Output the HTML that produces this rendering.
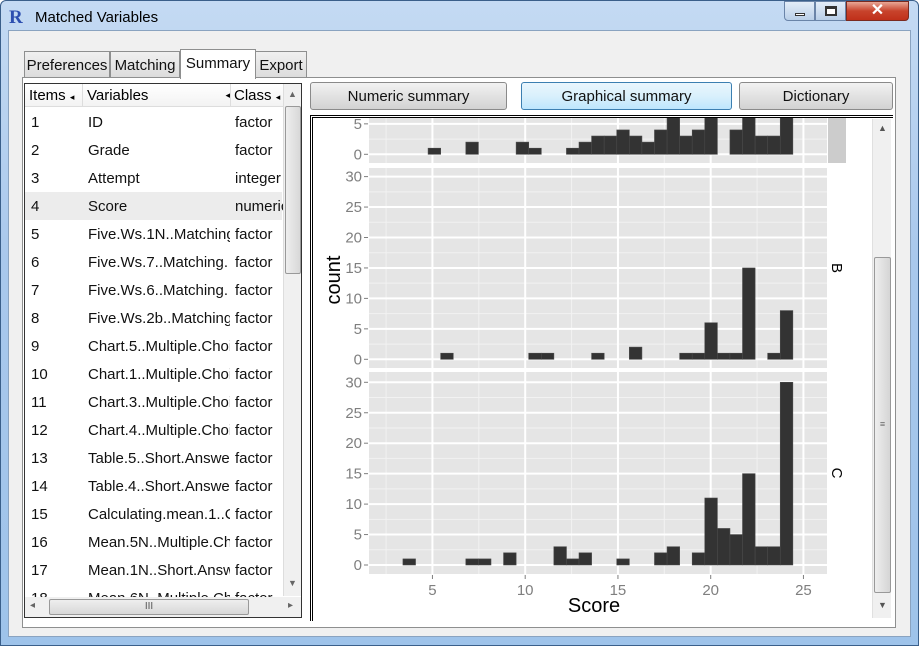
<!DOCTYPE html>
<html><head><meta charset="utf-8">
<style>
*{box-sizing:border-box;margin:0;padding:0}
body{width:919px;height:646px;overflow:hidden;background:#fff;font-family:"Liberation Sans",sans-serif;position:relative}
.abs{position:absolute}
.row{position:absolute;left:0;width:257px;height:28px;font-size:15px;color:#111}
.row span{position:absolute;top:6px;white-space:nowrap;overflow:hidden}
.btn{position:absolute;top:82px;height:28px;border:1px solid #8a8a8a;border-radius:3px;background:linear-gradient(#f2f2f2,#e2e2e2 50%,#d2d2d2);font-size:15px;text-align:center;line-height:27px;color:#111}
.tab{position:absolute;height:27px;border:1px solid #8e8f8f;background:linear-gradient(#f0f0f0,#dcdcdc);font-size:15px;line-height:27px;text-align:center;color:#111}
.hdr{white-space:nowrap}
</style></head><body>
<div class="abs" style="left:0;top:0;width:919px;height:646px;background:linear-gradient(#c4daf3,#a9c8ec 40%,#9ec3ea);border:1px solid #3a5f8a;border-radius:6px 6px 0 0"></div>
<div class="abs" style="left:9px;top:7px;font:bold 19px 'Liberation Serif',serif;color:#2d4fb0">R</div>
<div class="abs" style="left:35px;top:9px;font-size:15px;color:#000">Matched Variables</div>
<div class="abs" style="left:784px;top:1px;width:31px;height:20px;border:1px solid #6a84a8;border-radius:0 0 0 4px;background:linear-gradient(#e3edf8,#b9cfe8)"><div class="abs" style="left:10px;top:11px;width:10px;height:3px;background:#fff;border:1px solid #333"></div></div>
<div class="abs" style="left:815px;top:1px;width:31px;height:20px;border:1px solid #6a84a8;background:linear-gradient(#e3edf8,#b9cfe8)"><div class="abs" style="left:9px;top:4px;width:12px;height:10px;border:2px solid #333;border-top-width:3px;background:#fff"></div></div>
<div class="abs" style="left:846px;top:1px;width:63px;height:20px;border:1px solid #7a2a20;border-radius:0 0 4px 0;background:linear-gradient(#e8a796,#c8432c 50%,#c0301a);color:#fff;font-size:16px;font-weight:bold;text-align:center;line-height:18px">✕</div>
<div class="abs" style="left:8px;top:30px;width:903px;height:607px;background:#f0f0f0;border:1px solid #8aa3c0"></div>
<div class="tab" style="left:24px;top:51px;width:86px">Preferences</div>
<div class="tab" style="left:110px;top:51px;width:70px">Matching</div>
<div class="tab" style="left:255px;top:51px;width:52px">Export</div>
<div class="abs" style="left:22px;top:77px;width:874px;height:551px;background:#fff;border:1px solid #8e8f8f"></div>
<div class="tab" style="left:180px;top:49px;width:76px;height:30px;background:#fff;border-bottom:none">Summary</div>

<div class="abs" style="left:24px;top:83px;width:278px;height:535px;border:1px solid #333;background:#fff;overflow:hidden">
 <div class="abs" style="left:0;top:0;width:258px;height:23px;background:linear-gradient(#fff,#f3f3f3);border-bottom:1px solid #ddd;font-size:15px;overflow:hidden">
  <span class="abs hdr" style="left:4px;top:3px">Items <span style="font-size:9px">◂</span></span>
  <span class="abs hdr" style="left:57px;top:0;height:23px;padding-top:3px;width:148px;border-left:1px solid #ddd;padding-left:4px">Variables<span style="float:right;font-size:9px;padding-top:3px">◂</span></span>
  <span class="abs hdr" style="left:205px;top:0;height:23px;padding-top:3px;width:60px;border-left:1px solid #ddd;padding-left:3px">Class <span style="font-size:9px">◂</span></span>
 </div>
 <div class="abs" id="rows" style="left:0;top:24px;width:258px;height:489px;overflow:hidden"></div>
 <div class="abs" style="left:258px;top:0;width:18px;height:512px;background:#f0f0f0;border-left:1px solid #ddd">
  <div class="abs" style="left:4px;top:5px;font-size:9px;color:#666">▲</div>
  <div class="abs" style="left:1px;top:22px;width:16px;height:168px;border:1px solid #999;border-radius:2px;background:linear-gradient(90deg,#eee,#d8d8d8)"></div>
  <div class="abs" style="left:4px;top:494px;font-size:9px;color:#666">▼</div>
 </div>
 <div class="abs" style="left:0;top:513px;width:276px;height:20px;background:#f0f0f0">
  <div class="abs" style="left:5px;top:3px;font-size:10px;color:#666">◂</div>
  <div class="abs" style="left:24px;top:2px;width:200px;height:16px;border:1px solid #999;border-radius:2px;background:linear-gradient(#eee,#d8d8d8);text-align:center;font-size:10px;line-height:14px;color:#555">III</div>
  <div class="abs" style="left:263px;top:3px;font-size:10px;color:#666">▸</div>
 </div>
</div>

<div class="btn" style="left:310px;width:197px">Numeric summary</div>
<div class="btn" style="left:521px;width:211px;border-color:#3c7fb1;background:linear-gradient(#eaf6fd,#d9f0fc 50%,#bee6fd)">Graphical summary</div>
<div class="btn" style="left:739px;width:154px">Dictionary</div>

<div class="abs" style="left:310px;top:115px;width:583px;height:506px;border-left:3px double #000;border-top:3px double #000;background:#fff"></div>
<svg class="abs" style="left:313px;top:118px" width="557" height="500" viewBox="313 118 557 500" id="chart"></svg>
<div class="abs" style="left:872px;top:119px;width:19px;height:499px;background:#f0f0f0;border-left:1px solid #e0e0e0">
 <div class="abs" style="left:5px;top:4px;font-size:9px;color:#555">▲</div>
 <div class="abs" style="left:1px;top:138px;width:17px;height:336px;border:1px solid #999;border-radius:2px;background:linear-gradient(90deg,#eee,#d5d5d5);text-align:center;line-height:332px;font-size:9px;color:#666">≡</div>
 <div class="abs" style="left:5px;top:481px;font-size:9px;color:#555">▼</div>
</div>

<script>
var rowItems=["1","2","3","4","5","6","7","8","9","10","11","12","13","14","15","16","17","18"];
var rowVars=["ID","Grade","Attempt","Score","Five.Ws.1N..Matching.","Five.Ws.7..Matching.","Five.Ws.6..Matching.","Five.Ws.2b..Matching.","Chart.5..Multiple.Choic","Chart.1..Multiple.Choic","Chart.3..Multiple.Choic","Chart.4..Multiple.Choic","Table.5..Short.Answer.","Table.4..Short.Answer.","Calculating.mean.1..Ca","Mean.5N..Multiple.Cho","Mean.1N..Short.Answe","Mean.6N..Multiple.Cho"];
var rowClass=["factor","factor","integer","numeric","factor","factor","factor","factor","factor","factor","factor","factor","factor","factor","factor","factor","factor","factor"];
var rc=document.getElementById('rows');
rowItems.forEach(function(it,i){
 var r=document.createElement('div');r.className='row';r.style.top=(i*28)+'px';
 if(i==3)r.style.background='#ececec';
 
 
 r.innerHTML='<span style="left:6px">'+it+'</span><span style="left:63px;width:142px">'+rowVars[i]+'</span><span style="left:210px;width:48px">'+rowClass[i]+'</span>';
 rc.appendChild(r);
});

// chart data
var binStart=3.41, binWidth=0.678;
var countsA=[0,0,1,0,0,2,0,0,0,2,1,0,0,1,2,3,3,4,3,2,4,8,3,4,9,0,4,10,3,3,12];
var countsB=[0,0,0,1,0,0,0,0,0,0,1,1,0,0,0,1,0,0,2,0,0,0,1,1,6,1,1,15,0,1,8];
var countsC=[1,0,0,0,0,1,1,0,2,0,0,0,3,1,2,0,0,1,0,0,2,3,0,2,11,6,5,15,3,3,30];
var panelNames=["A","B","C"];
var xTicks=[5,10,15,20,25];
var yTicksA=[0,5];
var yTicksBC=[0,5,10,15,20,25,30];

var NS='http://www.w3.org/2000/svg';
var svg=document.getElementById('chart');
function el(t,a,p){var e=document.createElementNS(NS,t);for(var k in a)e.setAttribute(k,a[k]);(p||svg).appendChild(e);return e;}
var PX0=369,PX1=827,XMIN=1.58,XMAX=26.27;
function xs(v){return PX0+(v-XMIN)/(XMAX-XMIN)*(PX1-PX0);}
var cpp=6.09;
var panels=[{top:-37,bot:163,zero:154.3,data:countsA,ticks:yTicksA},{top:168,bot:368,zero:359.3,data:countsB,ticks:yTicksBC},{top:372,bot:574,zero:565,data:countsC,ticks:yTicksBC}];
panels.forEach(function(p,pi){
 function ys(v){return p.zero-v*cpp;}
 var g=el('g',{});
 
 
 el('rect',{x:PX0,y:p.top,width:PX1-PX0,height:p.bot-p.top,fill:'#e5e5e5'},g);
 for(var v=2.5;v<XMAX;v+=5){el('line',{x1:xs(v),x2:xs(v),y1:p.top,y2:p.bot,stroke:'#f2f2f2','stroke-width':1},g);}
 for(var c=2.5;c<32;c+=5){var y=ys(c);if(y>p.top&&y<p.bot)el('line',{x1:PX0,x2:PX1,y1:y,y2:y,stroke:'#f2f2f2','stroke-width':1},g);}
 xTicks.forEach(function(t){el('line',{x1:xs(t),x2:xs(t),y1:p.top,y2:p.bot,stroke:'#fff','stroke-width':2},g);});
 p.ticks.forEach(function(t){var y=ys(t);el('line',{x1:PX0,x2:PX1,y1:y,y2:y,stroke:'#fff','stroke-width':2},g);
  el('line',{x1:PX0-5,x2:PX0-1,y1:y,y2:y,stroke:'#7f7f7f','stroke-width':1},g);
  var tx=el('text',{x:PX0-7,y:y+5,'text-anchor':'end','font-size':'15','fill':'#7f7f7f','font-family':'Liberation Sans, sans-serif'},g);tx.textContent=t;
  
  
 });
 p.data.forEach(function(n,i){if(!n)return;
  var x0=xs(binStart+i*binWidth),x1=xs(binStart+(i+1)*binWidth);
  var r=el('rect',{x:x0,y:ys(n),width:x1-x0,height:n*cpp,fill:'#333','stroke':'#4a4a4a','stroke-width':0.6},g);
  
  
 });
 if(pi==0){el('rect',{x:828,y:p.top,width:18,height:p.bot-p.top,fill:'#cccccc'},g);}
 else{var st=el('text',{x:832,y:(p.top+p.bot)/2,'font-size':'15',fill:'#000','font-family':'Liberation Sans, sans-serif',transform:'rotate(90 832 '+((p.top+p.bot)/2)+')','text-anchor':'middle'},g);st.textContent=panelNames[pi];
  
  }
});
xTicks.forEach(function(t){
 el('line',{x1:xs(t),x2:xs(t),y1:575,y2:579,stroke:'#7f7f7f','stroke-width':1});
 var tx=el('text',{x:xs(t),y:595,'text-anchor':'middle','font-size':'15',fill:'#7f7f7f','font-family':'Liberation Sans, sans-serif'});tx.textContent=t;
 
 
});
var xt=el('text',{x:594,y:612,'text-anchor':'middle','font-size':'20',fill:'#000','font-family':'Liberation Sans, sans-serif'});xt.textContent='Score';


var yt=el('text',{x:340,y:280,'text-anchor':'middle','font-size':'20',fill:'#000','font-family':'Liberation Sans, sans-serif',transform:'rotate(-90 340 280)'});yt.textContent='count';


</script>
</body></html>
